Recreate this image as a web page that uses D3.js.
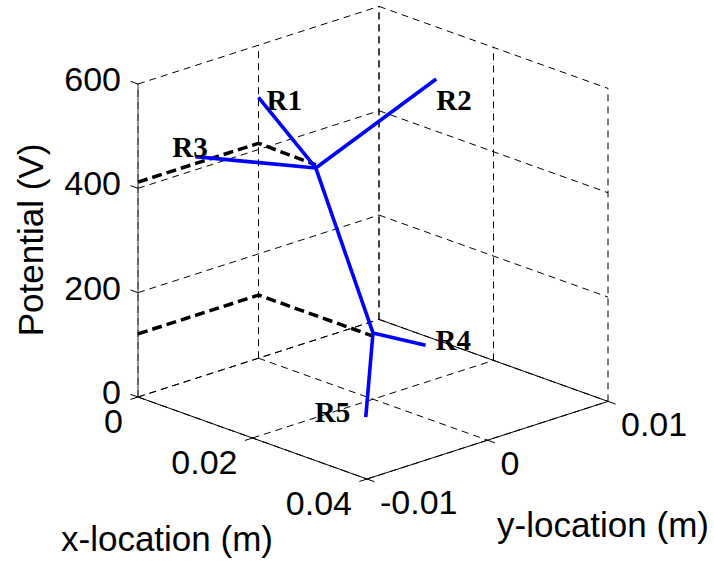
<!DOCTYPE html>
<html>
<head>
<meta charset="utf-8">
<script src="https://cdn.jsdelivr.net/npm/d3@7"></script>
<style>
  html, body { margin: 0; padding: 0; background: #fff; }
  text { font-family: "Liberation Sans", Arial, sans-serif; fill: #000; }
  .lbl { font-family: "Liberation Serif", "Times New Roman", serif; font-weight: bold; }
</style>
</head>
<body>
<svg id="chart"></svg>
<script>
// axis ticks
const xTicks = [0, 0.02, 0.04];
const yTicks = [-0.01, 0, 0.01];
const zTicks = [0, 200, 400, 600];
const xTickLabels = ['0', '0.02', '0.04'];
const yTickLabels = ['-0.01', '0', '0.01'];
const zTickLabels = ['0', '200', '400', '600'];

// black dashed potential traces (x, y, V)
const traceUpper = [[0, -0.01, 412], [0, 0, 412], [0.01, 0, 410]];
const traceLower = [[0, -0.01, 121], [0, 0, 121], [0.02, 0, 121]];

// blue electrode tree: junctions and branch ends (x, y, V)
const junction1 = [0.01, 0, 404];
const junction2 = [0.02, 0, 127];
const branchNames = ['R1', 'R2', 'R3', 'R4', 'R5'];
const branchEnds = [
  [0, 0, 500],
  [0.01, 0.01, 500],
  [0.01, -0.01, 500],
  [0.0275, 0.0008, 127],
  [0.024, -0.0025, 0],
];
const branchFrom = [junction1, junction1, junction1, junction2, junction2];

const width = 714;
const height = 562;

// screen frame of the 3d box
const origin = [138, 397];     // (x=0, y=-0.01, z=0)
const xVec = [229, 82];
const yVec = [241, -77.6];
const zLen = 313;

const sx = d3.scaleLinear().domain([0, 0.04]).range([0, 1]);
const sy = d3.scaleLinear().domain([-0.01, 0.01]).range([0, 1]);
const sz = d3.scaleLinear().domain([0, 600]).range([0, 1]);

function proj(p) {
  const fx = sx(p[0]);
  const fy = sy(p[1]);
  const fz = sz(p[2]);
  return [
    origin[0] + xVec[0] * fx + yVec[0] * fy,
    origin[1] + xVec[1] * fx + yVec[1] * fy - zLen * fz,
  ];
}

const svg = d3.select('#chart')
  .attr('width', width)
  .attr('height', height);

svg.append('rect')
  .attr('width', width)
  .attr('height', height)
  .style('fill', '#fff');

const line = d3.line().x(d => proj(d)[0]).y(d => proj(d)[1]);

const [x0, x1] = sx.domain();
const [y0, y1] = sy.domain();
const [z0, z1] = sz.domain();

// grid segments on floor and the two back walls
const grid = [];
xTicks.forEach((x) => {
  grid.push([[x, y0, z0], [x, y1, z0]]);
  grid.push([[x, y1, z0], [x, y1, z1]]);
});
yTicks.forEach((y) => {
  if (y !== y1) grid.push([[x0, y, z0], [x1, y, z0]]);
  grid.push([[x0, y, z0], [x0, y, z1]]);
});
zTicks.forEach((z) => {
  grid.push([[x0, y0, z], [x0, y1, z]]);
  grid.push([[x0, y1, z], [x1, y1, z]]);
});

svg.append('g')
  .selectAll('path')
  .data(grid)
  .enter()
  .append('path')
  .attr('d', line)
  .style('fill', 'none')
  .style('stroke', '#000')
  .style('stroke-width', 1)
  .style('stroke-dasharray', '7,5');

// solid axis lines
const axes = [
  [[x0, y0, z0], [x1, y0, z0]],
  [[x1, y0, z0], [x1, y1, z0]],
  [[x0, y1, z0], [x1, y1, z0]],
];
svg.append('g')
  .selectAll('path')
  .data(axes)
  .enter()
  .append('path')
  .attr('d', line)
  .style('fill', 'none')
  .style('stroke', '#000')
  .style('stroke-width', 1);

svg.append('path')
  .attr('d', line([[x0, y0, z0], [x0, y0, z1]]))
  .style('fill', 'none')
  .style('stroke', '#555')
  .style('stroke-width', 1.2);

// tick marks
function unit(v, len) {
  const n = Math.hypot(v[0], v[1]);
  return [v[0] / n * len, v[1] / n * len];
}
const tz = unit([-xVec[0], -xVec[1]], 8);
const tx = unit([-yVec[0], -yVec[1]], 8);
const ty = unit(xVec, 8);
const ticks = [];
zTicks.forEach(z => ticks.push({ p: proj([x0, y0, z]), d: tz }));
xTicks.forEach(x => ticks.push({ p: proj([x, y0, z0]), d: tx }));
yTicks.forEach(y => ticks.push({ p: proj([x1, y, z0]), d: ty }));
svg.append('g')
  .selectAll('line')
  .data(ticks)
  .enter()
  .append('line')
  .attr('x1', d => d.p[0])
  .attr('y1', d => d.p[1])
  .attr('x2', d => d.p[0] + d.d[0])
  .attr('y2', d => d.p[1] + d.d[1])
  .style('stroke', '#000')
  .style('stroke-width', 1);

// tick labels
svg.append('g')
  .selectAll('text')
  .data(zTicks)
  .enter()
  .append('text')
  .attr('x', d => proj([x0, y0, d])[0] - 17)
  .attr('y', d => proj([x0, y0, d])[1] + 7)
  .attr('text-anchor', 'end')
  .style('font-size', '34px')
  .text((d, i) => zTickLabels[i]);

svg.append('g')
  .selectAll('text')
  .data(xTicks)
  .enter()
  .append('text')
  .attr('x', d => proj([d, y0, z0])[0] - 15)
  .attr('y', d => proj([d, y0, z0])[1] + 36)
  .attr('text-anchor', 'end')
  .style('font-size', '34px')
  .text((d, i) => xTickLabels[i]);

svg.append('g')
  .selectAll('text')
  .data(yTicks)
  .enter()
  .append('text')
  .attr('x', d => proj([x1, d, z0])[0] + 13)
  .attr('y', d => proj([x1, d, z0])[1] + 35)
  .attr('text-anchor', 'start')
  .style('font-size', '34px')
  .text((d, i) => yTickLabels[i]);

// axis titles
svg.append('text')
  .attr('transform', 'translate(43,240) rotate(-90)')
  .attr('text-anchor', 'middle')
  .style('font-size', '35px')
  .text('Potential (V)');

svg.append('text')
  .attr('x', 167)
  .attr('y', 551)
  .attr('text-anchor', 'middle')
  .style('font-size', '35px')
  .text('x-location (m)');

svg.append('text')
  .attr('x', 603)
  .attr('y', 537)
  .attr('text-anchor', 'middle')
  .style('font-size', '35px')
  .text('y-location (m)');

// black dashed traces
svg.append('g')
  .selectAll('path')
  .data([traceUpper, traceLower])
  .enter()
  .append('path')
  .attr('d', line)
  .style('fill', 'none')
  .style('stroke', '#000')
  .style('stroke-width', 3.5)
  .style('stroke-dasharray', '10,5');

// blue tree
const segs = branchEnds.map((end, i) => [branchFrom[i], end]);
segs.push([junction1, junction2]);
svg.append('g')
  .selectAll('path')
  .data(segs)
  .enter()
  .append('path')
  .attr('d', line)
  .style('fill', 'none')
  .style('stroke', '#0000ff')
  .style('stroke-width', 3.6)
  .style('stroke-linejoin', 'round');

// branch labels
const labelOffsets = [[8, 13], [0, 31], [-23, 0], [10, 5], [-51, 5]];
svg.append('g')
  .selectAll('text')
  .data(branchEnds)
  .enter()
  .append('text')
  .attr('class', 'lbl')
  .attr('x', (d, i) => proj(d)[0] + labelOffsets[i][0])
  .attr('y', (d, i) => proj(d)[1] + labelOffsets[i][1])
  .style('font-size', '29px')
  .text((d, i) => branchNames[i]);
</script>
</body>
</html>
